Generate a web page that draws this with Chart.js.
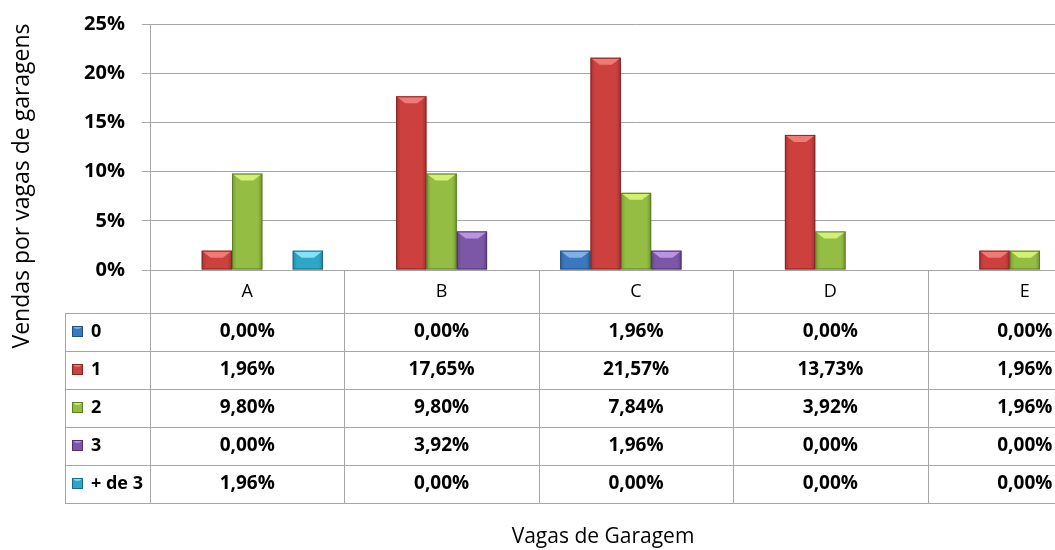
<!DOCTYPE html>
<html>
<head>
<meta charset="utf-8">
<script src="https://cdn.jsdelivr.net/npm/chart.js@4.4.0/dist/chart.umd.min.js"></script>
<style>
  html, body { margin: 0; padding: 0; background: #fff; overflow: hidden; }
  #wrap { position: relative; width: 1124px; height: 550px; }
</style>
</head>
<body>
<div id="wrap"><canvas id="chart"></canvas></div>
<script>
// data (percent of sales)
const categories = ['A', 'B', 'C', 'D', 'E'];
const seriesNames = ['0', '1', '2', '3', '+ de 3'];
const vagas0 = [0.00, 0.00, 1.96, 0.00, 0.00];
const vagas1 = [1.96, 17.65, 21.57, 13.73, 1.96];
const vagas2 = [9.80, 9.80, 7.84, 3.92, 1.96];
const vagas3 = [0.00, 3.92, 1.96, 0.00, 0.00];
const vagasMais3 = [1.96, 0.00, 0.00, 0.00, 0.00];
const yTicks = [0, 5, 10, 15, 20, 25];
const yTitle = 'Vendas por vagas de garagens';
const xTitle = 'Vagas de Garagem';

const seriesValues = [vagas0, vagas1, vagas2, vagas3, vagasMais3];

// body / highlight / edge colours for the bevelled Excel look
const palette = [
  { body: '#3b78c0', light: '#7fb0ea', dark: '#234f85' },
  { body: '#cc403e', light: '#f07a76', dark: '#872523' },
  { body: '#93bd43', light: '#d2f074', dark: '#5d7d26' },
  { body: '#7c57a8', light: '#b894e4', dark: '#4f336f' },
  { body: '#2fa6c7', light: '#84e2f6', dark: '#1b6d85' },
];

const FONT = '"Open Sans", sans-serif';
const LINE = '#a6a6a6';
const HEADER_H = 43;
const ROW_H = 38;
const LEGEND_LEFT = 65;

function fmtPct(v) {
  return v.toFixed(2).replace('.', ',') + '%';
}

function drawBevel(ctx, l, t, r, b, col) {
  const w = r - l, h = b - t;
  const d = Math.min(7, w / 4, h / 2.5);
  ctx.save();
  // side shading
  const g = ctx.createLinearGradient(l, 0, r, 0);
  g.addColorStop(0, 'rgba(0,0,0,0.18)');
  g.addColorStop(0.15, 'rgba(0,0,0,0)');
  g.addColorStop(0.85, 'rgba(0,0,0,0)');
  g.addColorStop(1, 'rgba(0,0,0,0.22)');
  ctx.fillStyle = g;
  ctx.fillRect(l, t, w, h);
  // top bevel
  ctx.beginPath();
  ctx.moveTo(l, t);
  ctx.lineTo(r, t);
  ctx.lineTo(r - d * 1.3, t + d);
  ctx.lineTo(l + d * 1.3, t + d);
  ctx.closePath();
  ctx.fillStyle = col.light;
  ctx.fill();
  ctx.strokeStyle = col.dark;
  ctx.lineWidth = 1;
  ctx.strokeRect(l + 0.5, t + 0.5, w - 1, h - 1);
  ctx.restore();
}

const bevelPlugin = {
  id: 'bevel',
  afterDatasetsDraw(chart) {
    const ctx = chart.ctx;
    chart.data.datasets.forEach((ds, di) => {
      const meta = chart.getDatasetMeta(di);
      meta.data.forEach((bar, i) => {
        if (!ds.data[i]) return;
        const p = bar.getProps(['x', 'y', 'base', 'width'], true);
        drawBevel(ctx, p.x - p.width / 2, p.y, p.x + p.width / 2, p.base, palette[di]);
      });
    });
  }
};

// data table under the plot + both axis titles
const tablePlugin = {
  id: 'dataTable',
  afterDraw(chart) {
    const ctx = chart.ctx;
    const area = chart.chartArea;
    const x = chart.scales.x;
    const colW = (area.right - area.left) / categories.length;
    const top = area.bottom;
    const rowsTop = top + HEADER_H;
    const bottom = rowsTop + ROW_H * seriesNames.length;

    ctx.save();
    ctx.strokeStyle = LINE;
    ctx.lineWidth = 1;
    ctx.beginPath();
    for (let i = 0; i <= categories.length; i++) {
      const cx = Math.round(area.left + i * colW) + 0.5;
      ctx.moveTo(cx, top);
      ctx.lineTo(cx, bottom);
    }
    const lx = LEGEND_LEFT + 0.5;
    ctx.moveTo(lx, rowsTop);
    ctx.lineTo(lx, bottom);
    for (let r = 0; r <= seriesNames.length; r++) {
      const ry = Math.round(rowsTop + r * ROW_H) + 0.5;
      ctx.moveTo(LEGEND_LEFT, ry);
      ctx.lineTo(area.right + 5, ry);
    }
    ctx.stroke();

    ctx.fillStyle = '#000';
    ctx.textBaseline = 'middle';
    ctx.textAlign = 'center';
    ctx.font = '18px ' + FONT;
    categories.forEach((c, i) => {
      ctx.fillText(c, x.getPixelForValue(i), top + HEADER_H / 2);
    });

    seriesNames.forEach((name, r) => {
      const cy = rowsTop + r * ROW_H + ROW_H / 2;
      const col = palette[r];
      ctx.fillStyle = col.body;
      ctx.fillRect(72, cy - 6, 11, 11);
      drawBevel(ctx, 72, cy - 6, 83, cy + 5, col);
      ctx.fillStyle = '#000';
      ctx.font = 'bold 18px ' + FONT;
      ctx.textAlign = 'left';
      ctx.fillText(name, 91, cy);
      ctx.font = 'bold 19px ' + FONT;
      ctx.textAlign = 'center';
      seriesValues[r].forEach((v, i) => {
        ctx.fillText(fmtPct(v), x.getPixelForValue(i), cy);
      });
    });

    ctx.font = '21px ' + FONT;
    ctx.textAlign = 'center';
    ctx.fillText(xTitle, 603, 537);

    ctx.font = '23px ' + FONT;
    ctx.translate(22, 186);
    ctx.rotate(-Math.PI / 2);
    ctx.fillText(yTitle, 0, 0);
    ctx.restore();
  }
};

const datasets = seriesNames.map((name, i) => ({
  label: name,
  data: seriesValues[i],
  backgroundColor: palette[i].body,
  borderWidth: 0,
  categoryPercentage: 0.78,
  barPercentage: 1.0,
}));

new Chart(document.getElementById('chart'), {
  type: 'bar',
  data: { labels: categories, datasets },
  plugins: [bevelPlugin, tablePlugin],
  options: {
    responsive: true,
    maintainAspectRatio: false,
    animation: false,
    events: [],
    layout: { padding: { left: 0, top: 24, right: 2, bottom: 280 } },
    plugins: { legend: { display: false }, tooltip: { enabled: false } },
    scales: {
      x: { display: false, offset: true },
      y: {
        min: 0,
        max: 25,
        afterBuildTicks: (scale) => { scale.ticks = yTicks.map(v => ({ value: v })); },
        afterFit: (scale) => { scale.width = 150; },
        ticks: {
          padding: 17,
          color: '#000',
          // small lineHeight so the label overhang doesn't push the plot top down
          font: { family: FONT, size: 20, weight: 'bold', lineHeight: 0.5 },
          callback: (v) => v + '%'
        },
        grid: { color: LINE, tickLength: 8, lineWidth: 1 },
        border: { color: LINE, width: 1 }
      }
    }
  }
});
</script>
</body>
</html>
